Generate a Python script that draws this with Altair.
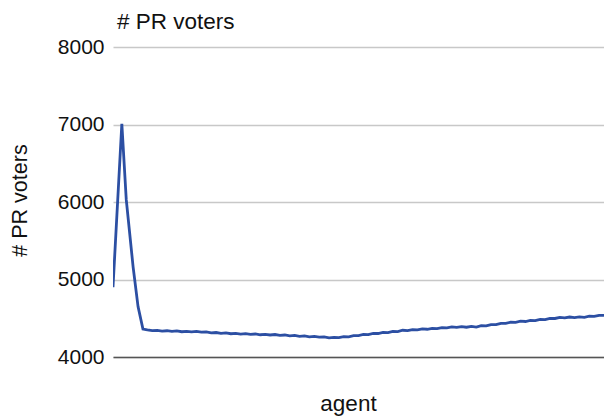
import altair as alt
import pandas as pd

agents = [0, 18, 27, 41, 51, 61,
          70, 80, 90, 100, 110, 120, 130, 140, 150, 160, 170, 180, 190, 200,
          210, 220, 230, 240, 250, 260, 270, 280, 290, 300, 310, 320, 330, 340,
          350, 360, 370, 380, 390, 400, 410, 420, 430, 440, 450, 460, 470, 480,
          490, 500, 510, 520, 530, 540, 550, 560, 570, 580, 590, 600, 610, 620,
          630, 640, 650, 660, 670, 680, 690, 700, 710, 720, 730, 740, 750, 760,
          770, 780, 790, 800, 810, 820, 830, 840, 850, 860, 870, 880, 890, 900,
          910, 920, 930, 940, 950, 960, 970, 980, 990, 1000]
voters = [4900, 7010, 6030, 5160, 4650, 4360,
          4349, 4341, 4344, 4335, 4339, 4330, 4336, 4326, 4331, 4324, 4330, 4320, 4325, 4312,
          4316, 4305, 4311, 4300, 4305, 4296, 4301, 4291, 4297, 4287, 4291, 4284, 4290, 4280,
          4284, 4273, 4278, 4266, 4272, 4261, 4266, 4256, 4260, 4248, 4253, 4249, 4262, 4260,
          4276, 4275, 4291, 4288, 4304, 4303, 4317, 4315, 4330, 4328, 4345, 4341, 4354, 4350,
          4362, 4358, 4370, 4366, 4380, 4377, 4389, 4382, 4392, 4384, 4394, 4386, 4403, 4402,
          4419, 4418, 4435, 4434, 4449, 4448, 4462, 4458, 4471, 4470, 4484, 4483, 4498, 4497,
          4512, 4506, 4516, 4509, 4518, 4512, 4526, 4524, 4538, 4536]
y_ticks = [4000, 5000, 6000, 7000, 8000]

df = pd.DataFrame({"agent": agents, "voters": voters})

FONT = "Liberation Sans"

chart = alt.Chart(df).mark_line(color="#2c4fa3", strokeWidth=2.8, clip=True).encode(
    x=alt.X("agent:Q", scale=alt.Scale(domain=[0, 1000], nice=False),
            axis=alt.Axis(title="agent", labels=False, ticks=False, grid=False,
                          domainColor="#555555", domainWidth=1.6,
                          titleFont=FONT, titleFontSize=22.5, titleFontWeight="normal",
                          titleColor="#111111", titleX=235, titleY=46,
                          titleBaseline="middle", titleAlign="center")),
    y=alt.Y("voters:Q", scale=alt.Scale(domain=[4000, 8000], nice=False),
            axis=alt.Axis(title="# PR voters", values=y_ticks, ticks=False, domain=False,
                          format="d",
                          gridColor="#c8c8c8", gridWidth=1.5,
                          labelFont=FONT, labelFontSize=21, labelColor="#111111",
                          labelPadding=9,
                          titleFont=FONT, titleFontSize=21.5, titleFontWeight="normal",
                          titleColor="#111111", titleX=-93, titleY=153,
                          titleAngle=-90, titleAlign="center", titleBaseline="middle")),
).properties(
    width=491, height=310,
    title=alt.TitleParams("# PR voters", anchor="start", frame="group", font=FONT,
                          fontSize=22.5, fontWeight="normal", color="#111111",
                          dx=4, offset=14, dy=11),
    autosize=alt.AutoSizeParams(type="none"),
    padding={"left": 105, "top": 39, "right": 0, "bottom": 60},
).configure_view(stroke=None)

chart.save("out.html", embed_options={"renderer": "svg", "actions": False})
